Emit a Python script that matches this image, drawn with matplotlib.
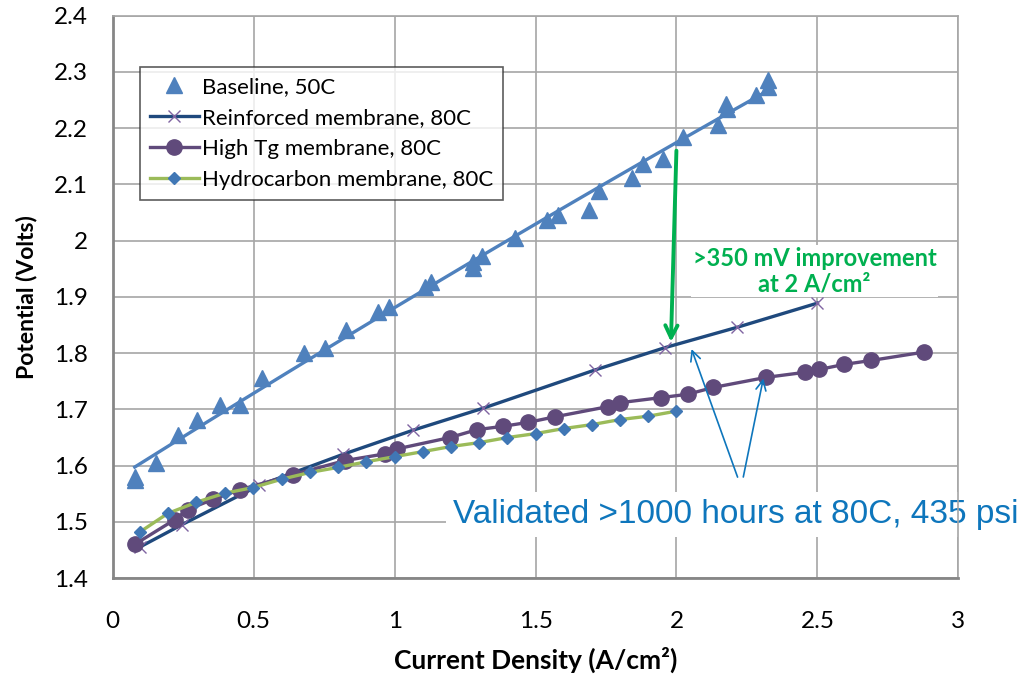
import numpy as np
import matplotlib
matplotlib.use('Agg')
import matplotlib.pyplot as plt
from matplotlib.ticker import FuncFormatter

# --- data ---
base_x = [0.078, 0.078, 0.153, 0.231, 0.30, 0.38, 0.45, 0.53, 0.678, 0.753, 0.827, 0.94,
          0.98, 1.108, 1.13, 1.278, 1.278, 1.31, 1.427, 1.54, 1.58, 1.69, 1.725, 1.843,
          1.88, 1.952, 2.023, 2.148, 2.176, 2.18, 2.283, 2.325, 2.325]
base_y = [1.580, 1.574, 1.605, 1.655, 1.682, 1.707, 1.707, 1.755, 1.800, 1.810, 1.842, 1.874,
          1.883, 1.917, 1.926, 1.963, 1.952, 1.973, 2.005, 2.037, 2.046, 2.055, 2.088, 2.111,
          2.136, 2.145, 2.184, 2.205, 2.243, 2.235, 2.259, 2.286, 2.274]

reinf_x = [0.095, 0.245, 0.52, 0.816, 1.065, 1.313, 1.71, 1.96, 2.215, 2.50]
reinf_y = [1.455, 1.495, 1.565, 1.620, 1.663, 1.702, 1.770, 1.810, 1.846, 1.889]

hightg_x = [0.078, 0.22, 0.266, 0.355, 0.45, 0.64, 0.823, 0.966, 1.01, 1.196, 1.292, 1.385,
            1.474, 1.57, 1.757, 1.80, 1.945, 2.04, 2.13, 2.318, 2.456, 2.506, 2.594, 2.69, 2.879]
hightg_y = [1.460, 1.504, 1.522, 1.540, 1.557, 1.584, 1.609, 1.621, 1.630, 1.650, 1.664, 1.670,
            1.677, 1.687, 1.705, 1.712, 1.721, 1.727, 1.739, 1.757, 1.766, 1.771, 1.780, 1.787, 1.802]

hydro_x = [0.096, 0.195, 0.297, 0.397, 0.497, 0.60, 0.70, 0.80, 0.90, 1.0, 1.1, 1.2, 1.3,
           1.4, 1.5, 1.6, 1.7, 1.8, 1.9, 2.0]
hydro_y = [1.482, 1.515, 1.535, 1.551, 1.561, 1.576, 1.588, 1.597, 1.607, 1.616, 1.625, 1.634,
           1.641, 1.650, 1.657, 1.666, 1.673, 1.682, 1.688, 1.697]

labels = ['Baseline, 50C', 'Reinforced membrane, 80C', 'High Tg membrane, 80C',
          'Hydrocarbon membrane, 80C']

plt.rcParams['font.family'] = ['Lato', 'DejaVu Sans']

fig = plt.figure(figsize=(10.25, 6.85), dpi=100)
ax = fig.add_axes([0.110, 0.156, 0.825, 0.821])

# baseline: markers + polynomial trendline
coef = np.polyfit(base_x, base_y, 2)
tx = np.linspace(min(base_x), max(base_x), 100)
ax.plot(tx, np.polyval(coef, tx), color='#4F81BD', lw=2.4, zorder=3)
ax.plot(base_x, base_y, ls='none', marker='^', ms=11, color='#4F81BD', label=labels[0], zorder=4)

ax.plot(reinf_x, reinf_y, color='#1F497D', lw=2.4, marker='x', ms=8, mew=1,
        mec='#8064A2', label=labels[1], zorder=3)
ax.plot(hightg_x, hightg_y, color='#604A7B', lw=2.4, marker='o', ms=11,
        label=labels[2], zorder=3)
ax.plot(hydro_x, hydro_y, color='#9BBB59', lw=2.4, marker='D', ms=6.5,
        mfc='#4077B5', mec='#4077B5', label=labels[3], zorder=3)

ax.set_xlim(0, 3)
ax.set_ylim(1.4, 2.4)
ax.set_xticks(np.arange(0, 3.01, 0.5))
ax.set_yticks(np.arange(1.4, 2.401, 0.1))
ax.xaxis.set_major_formatter(FuncFormatter(lambda v, p: f'{v:g}'))
ax.yaxis.set_major_formatter(FuncFormatter(lambda v, p: f'{round(v, 1):g}'))
ax.tick_params(length=0, labelsize=17.5)
ax.tick_params(axis='x', pad=24)
ax.tick_params(axis='y', pad=18)
ax.grid(True, color='#A6A6A6', lw=1.2, zorder=0)
ax.set_axisbelow(True)
for s in ax.spines.values():
    s.set_color('#A6A6A6')
    s.set_linewidth(1.2)
ax.spines['left'].set_color('#868686')
ax.spines['bottom'].set_color('#868686')
ax.spines['left'].set_linewidth(2)
ax.spines['bottom'].set_linewidth(2)

ax.set_xlabel('Current Density (A/cm²)', fontsize=19, fontweight='bold', labelpad=10)
ax.set_ylabel('Potential (Volts)', fontsize=16.5, fontweight='bold', labelpad=12)

leg = ax.legend(loc='upper left', bbox_to_anchor=(0.032, 0.909), borderaxespad=0,
                fontsize=16, frameon=True, fancybox=False, edgecolor='#333333',
                handlelength=2.2, handletextpad=0.15, labelspacing=0.5, borderpad=0.45)
leg.get_frame().set_linewidth(1.2)

# annotations
ax.annotate('', xy=(1.98, 1.815), xytext=(2.0, 2.165),
            arrowprops=dict(arrowstyle='->', color='#00B050', lw=2.8,
                            mutation_scale=22), zorder=5)
ax.text(2.49, 1.946, '>350 mV improvement\nat 2 A/cm²', color='#00B050', fontsize=17,
        fontweight='bold', ha='center', va='center', linespacing=1.15,
        bbox=dict(facecolor='white', edgecolor='none', pad=1), zorder=2)

ax.text(2.21, 1.513, 'Validated >1000 hours at 80C, 435 psi', color='#0E76BC',
        fontsize=24, family='Liberation Sans', ha='center', va='center',
        bbox=dict(facecolor='white', edgecolor='none', pad=5), zorder=2, clip_on=False)
ax.annotate('', xy=(2.05, 1.812), xytext=(2.22, 1.575),
            arrowprops=dict(arrowstyle='->', color='#0E76BC', lw=1.2, mutation_scale=18))
ax.annotate('', xy=(2.31, 1.76), xytext=(2.235, 1.575),
            arrowprops=dict(arrowstyle='->', color='#0E76BC', lw=1.2, mutation_scale=18))

fig.savefig('out.png', dpi=100)
